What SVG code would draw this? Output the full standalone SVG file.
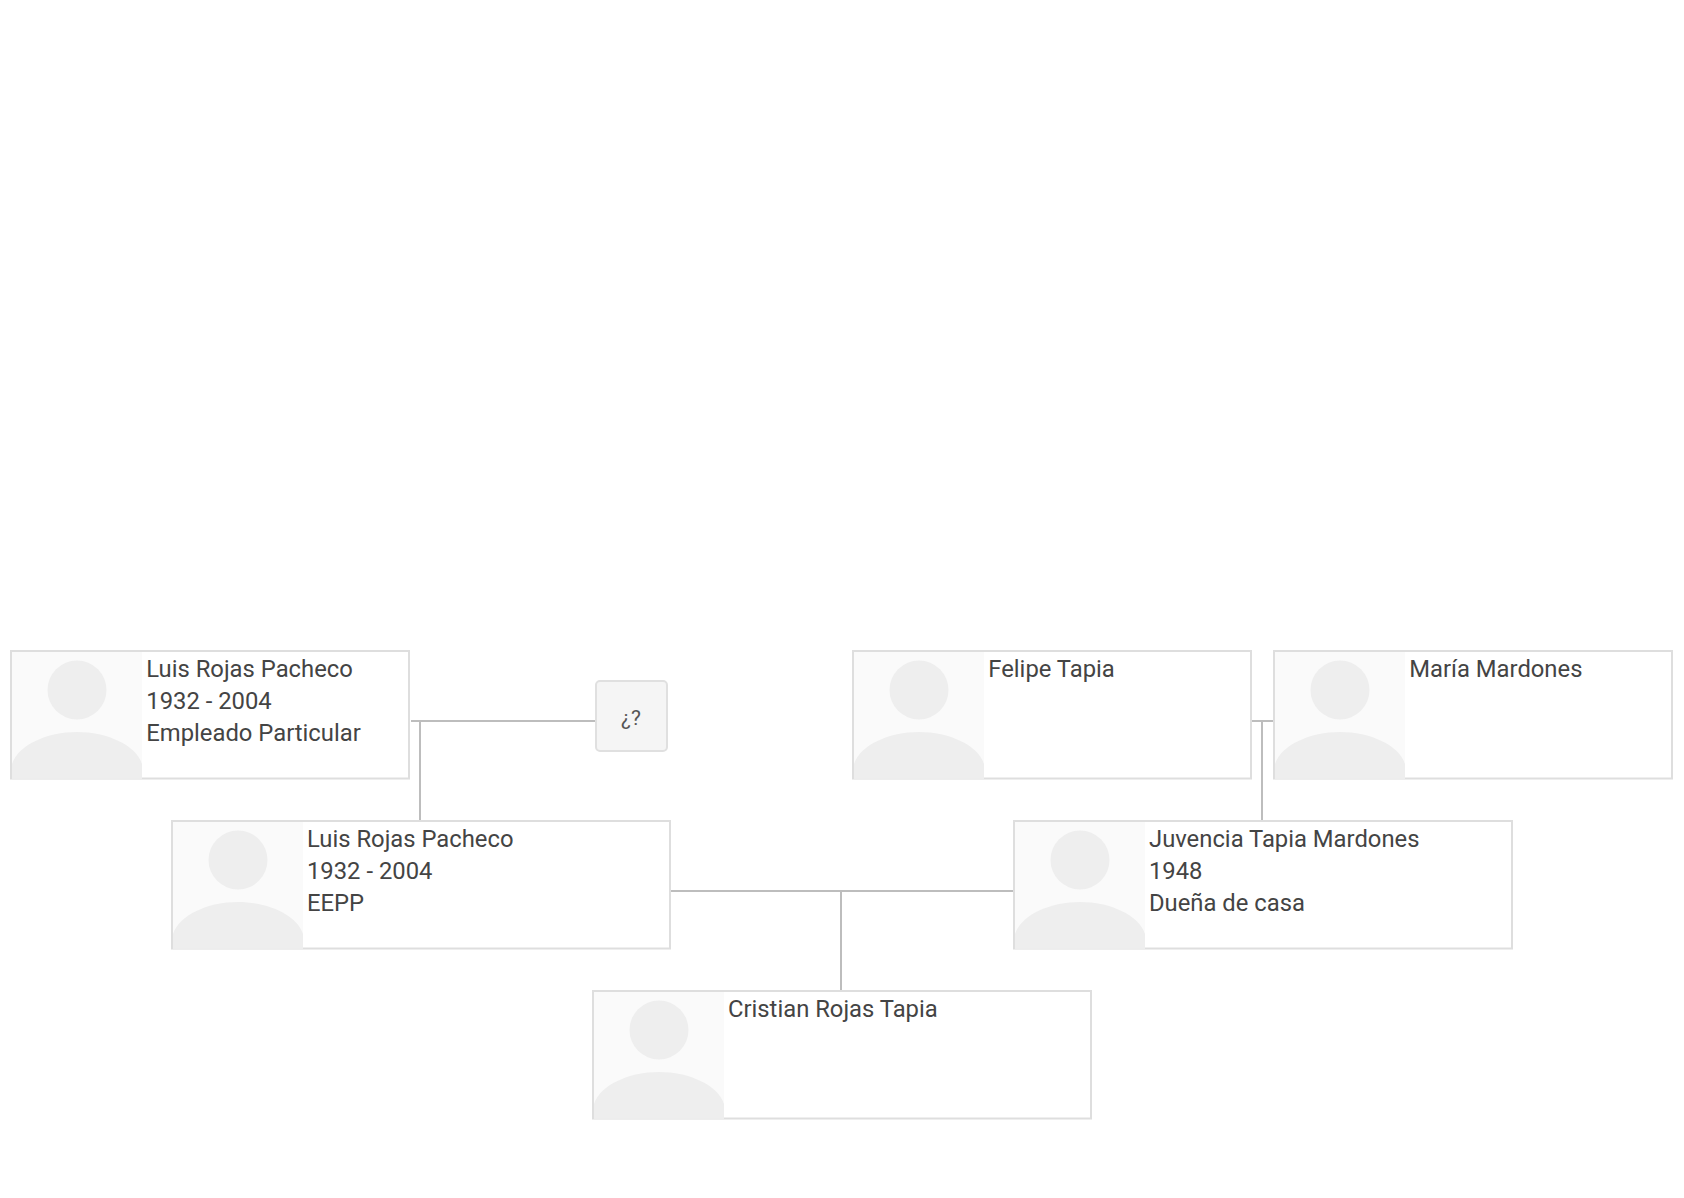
<svg xmlns="http://www.w3.org/2000/svg" xmlns:xlink="http://www.w3.org/1999/xlink" width="1684" height="1198" viewBox="0 0 1684 1198">
<style>
.card{fill:#fff;stroke:#dedede;stroke-width:2}
.ph{fill:#fafafa}
.sil{fill:#eee}
.t{font-family:Roboto,"Liberation Sans",sans-serif;font-size:23.8px;fill:#444}
.q{font-family:Roboto,"Liberation Sans",sans-serif;font-size:21px;fill:#555;text-anchor:middle}
.link{stroke:#bdbdbd;stroke-width:2;fill:none}
</style>
<defs>
<g id="avatar">
<rect class="ph" x="0" y="0" width="130" height="126.500"/>
<circle class="sil" cx="65" cy="38" r="29.500"/>
<path class="sil" d="M0 126.500V112C6 93 35 80 65 80S124 93 130 112V126.500Z"/>
</g>
</defs>
<rect width="1684" height="1198" fill="#fff"/>
<g id="connectors">
<path class="link" d="M411 721H596M420 721V820"/>
<path class="link" d="M1252 721H1273M1262 721V820"/>
<path class="link" d="M671 891H1013M841 891V990"/>
</g>
<g id="n1"><rect class="card" x="11" y="651" width="398" height="127.500"/><use xlink:href="#avatar" href="#avatar" x="12" y="652"/>
<text class="t" x="146.300" y="677">Luis Rojas Pacheco</text><text class="t" x="146.300" y="709">1932 - 2004</text><text class="t" x="146.300" y="741">Empleado Particular</text></g>
<g id="n2"><rect x="596" y="681" width="71" height="70" rx="4" fill="#f5f5f5" stroke="#e0e0e0" stroke-width="2"/><text class="q" x="631" y="725">¿?</text></g>
<g id="n3"><rect class="card" x="853" y="651" width="398" height="127.500"/><use xlink:href="#avatar" href="#avatar" x="854" y="652"/>
<text class="t" x="988.300" y="677">Felipe Tapia</text></g>
<g id="n4"><rect class="card" x="1274" y="651" width="398" height="127.500"/><use xlink:href="#avatar" href="#avatar" x="1275" y="652"/>
<text class="t" x="1409.300" y="677">María Mardones</text></g>
<g id="n5"><rect class="card" x="172" y="821" width="498" height="127.500"/><use xlink:href="#avatar" href="#avatar" x="173" y="822"/>
<text class="t" x="307" y="847">Luis Rojas Pacheco</text><text class="t" x="307" y="879">1932 - 2004</text><text class="t" x="307" y="911">EEPP</text></g>
<g id="n6"><rect class="card" x="1014" y="821" width="498" height="127.500"/><use xlink:href="#avatar" href="#avatar" x="1015" y="822"/>
<text class="t" x="1149" y="847">Juvencia Tapia Mardones</text><text class="t" x="1149" y="879">1948</text><text class="t" x="1149" y="911">Dueña de casa</text></g>
<g id="n7"><rect class="card" x="593" y="991" width="498" height="127.500"/><use xlink:href="#avatar" href="#avatar" x="594" y="992"/>
<text class="t" x="728" y="1017">Cristian Rojas Tapia</text></g>
</svg>
